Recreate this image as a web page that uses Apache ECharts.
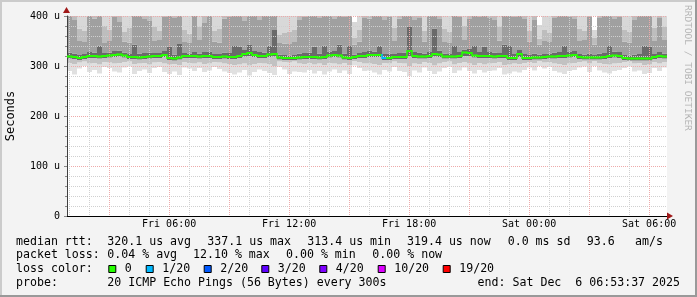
<!DOCTYPE html>
<html><head><meta charset="utf-8">
<script src="https://cdn.jsdelivr.net/npm/echarts@6/dist/echarts.min.js"></script>
<style>html,body{margin:0;padding:0;background:#f3f3f3}#c{width:697px;height:297px}</style>
</head><body><div id="c"></div>
<script>
// time axis: hours after Fri 00:00
const startHour = 0.8936;   // Fri 00:53:37
const endHour = 30.8936;    // Sat 06:53:37
const stepHours = 0.25;
const hourTicks = [1,2,3,4,5,6,7,8,9,10,11,12,13,14,15,16,17,18,19,20,21,22,23,24,25,26,27,28,29,30];
const majorTicks = [3,6,9,12,15,18,21,24,27,30];
const labelTicks = [6,12,18,24,30];
const labelNames = ['Fri 06:00','Fri 12:00','Fri 18:00','Sat 00:00','Sat 06:00'];
const yTicks = [0,100,200,300,400];
const yTickLabels = ['0','100 u','200 u','300 u','400 u'];

// RTT values in microseconds per 15-minute column
const med = [319,318,316,318,320,320,319,320,321,322,323,321,318,318,317,318,319,320,320,322,
316,315,317,320,320,320,319,320,320,318,318,319,318,318,320,324,326,322,320,320,
323,324,317,316,316,316,317,318,318,318,317,318,321,322,321,317,316,318,320,320,
322,322,322,316,316,318,318,318,330,320,319,319,320,324,323,319,319,319,320,327,
326,321,320,320,320,319,320,320,316,316,324,316,316,317,317,318,319,319,320,320,
321,322,318,317,317,317,317,318,320,321,320,316,315,315,315,315,315,318,320,319];
const coreLow = [315,314,312,314,316,316,315,316,317,318,319,317,314,314,313,314,315,316,316,318,
312,311,313,316,316,316,315,316,316,314,314,315,314,314,316,319,320,318,316,316,
318,319,313,312,312,312,313,314,314,314,313,314,317,318,317,313,312,314,316,316,
318,318,318,312,312,314,314,314,320,316,315,315,316,319,318,315,315,315,316,320,
320,317,316,316,316,315,316,316,312,312,318,312,312,313,313,314,315,315,316,316,
317,318,314,313,313,313,313,314,316,317,316,312,311,311,311,311,311,314,316,315];
const midLow = [306,304,307,309,305,306,303,308,307,305,306,308,309,304,305,306,303,307,308,305,
303,304,302,308,306,305,307,304,305,308,307,305,304,302,303,305,301,304,306,305,
304,300,309,308,307,309,305,304,306,303,305,302,306,305,303,306,302,310,308,305,
305,304,302,306,305,309,306,305,300,305,304,308,306,301,305,308,309,303,306,308,
305,302,306,303,305,306,308,302,303,305,304,306,308,306,310,307,308,305,304,302,
305,306,308,309,305,310,306,304,303,305,306,308,309,305,306,302,303,308,305,308];
const minPing = [290,283,295,300,288,292,285,298,296,289,287,297,299,284,290,293,286,296,298,288,
284,289,282,297,295,290,296,288,291,298,294,289,286,283,287,292,281,288,293,290,
286,282,298,293,284,289,288,287,292,285,290,283,289,293,286,291,284,301,296,290,
291,287,283,292,289,298,290,288,280,291,287,297,290,284,289,296,298,286,291,297,
290,285,292,287,290,291,296,283,285,289,287,292,297,291,300,295,298,290,287,284,
290,292,297,299,288,300,291,287,285,290,292,296,299,289,291,284,286,296,290,297];
const coreHigh = [327,325,322,324,328,327,341,326,327,330,331,327,324,343,325,326,327,326,326,330,
339,323,344,326,325,328,325,328,329,324,324,327,326,340,338,332,342,330,328,327,
341,372,323,322,321,322,325,326,327,339,325,341,329,330,343,325,340,323,326,328,
330,329,341,324,325,324,326,327,378,328,327,325,328,375,331,325,324,340,328,333,
334,340,328,339,328,327,326,343,340,324,332,324,322,325,323,324,325,327,328,341,
329,330,324,323,325,322,325,326,340,329,328,322,321,323,324,341,339,324,328,325];
const midHigh = [400,392,350,348,405,395,420,346,350,398,388,349,347,420,402,394,390,350,352,398,
420,396,420,348,346,404,352,386,400,349,347,395,398,420,420,390,420,405,392,400,
420,420,346,345,344,348,392,398,405,420,396,420,402,394,420,398,420,343,349,396,
395,404,420,392,398,350,395,400,420,392,396,349,402,420,394,348,346,420,398,352,
394,420,398,420,396,392,351,420,420,398,404,394,349,392,343,350,348,396,402,420,
398,394,350,352,398,343,396,402,420,394,398,349,347,392,400,420,420,350,396,352];
const outerHigh = [420,420,375,370,420,420,430,380,372,420,420,368,376,430,420,420,420,378,370,420,
430,420,430,372,365,420,378,420,420,370,374,420,420,430,430,420,430,420,420,420,
430,430,362,366,368,372,420,420,420,430,420,430,420,420,430,420,430,356,372,420,
420,420,430,420,420,376,420,420,430,420,420,370,420,430,420,374,368,430,420,380,
420,430,420,430,420,420,378,430,430,420,420,420,370,420,355,372,366,420,420,430,
420,420,374,370,420,356,420,420,430,420,420,372,368,420,420,430,430,376,420,378];
const maxPing = [440,440,440,440,440,440,440,440,440,440,440,440,440,440,440,440,440,440,440,440,
440,440,440,440,440,440,440,440,440,440,440,440,440,440,440,440,440,440,440,440,
440,440,440,440,440,440,440,440,440,440,440,440,440,440,440,440,440,388,440,440,
440,440,440,440,440,440,440,440,440,440,440,440,440,440,440,440,440,440,440,440,
440,440,440,440,440,440,440,440,440,440,440,440,440,440,382,440,440,440,440,440,
440,440,440,440,440,372,440,440,440,440,440,440,440,440,440,440,440,440,440,440];
const lostPings = [0,0,0,0,0,0,0,0,0,0,0,0,0,0,0,0,0,0,0,0,
0,0,0,0,0,0,0,0,0,0,0,0,0,0,0,0,0,0,0,0,
0,0,0,0,0,0,0,0,0,0,0,0,0,0,0,0,0,0,0,0,
0,0,0,1,0,0,0,0,0,0,0,0,0,0,0,0,0,0,0,0,
0,0,0,0,0,0,0,0,0,0,0,0,0,0,0,0,0,0,0,0,
0,0,0,0,0,0,0,0,0,0,0,0,0,0,0,0,0,0,0,0];

const lossLabels = ['0','1/20','2/20','3/20','4/20','10/20','19/20'];
const lossColors = ['#26ff00','#00b8ff','#0059ff','#5e00ff','#7e00ff','#dd00ff','#ff0000'];

const smokeShades = ['#e0e0e0','#c2c2c2','#6a6a6a','#a0a0a0','#bdbdbd','#d8d8d8'];
const MONO = "'DejaVu Sans Mono', monospace";

const colTimes = med.map((_, i) => startHour + i * stepHours);
const smokeData = med.map((m, i) => [colTimes[i], minPing[i], midLow[i], coreLow[i], coreHigh[i], midHigh[i], outerHigh[i], maxPing[i]]);
const medData = med.map((m, i) => [colTimes[i], m, lostPings[i], i > 0 ? med[i-1] : m]);

const chart = echarts.init(document.getElementById('c'), null, {renderer: 'canvas'});

function lossColor(n) {
  if (n <= 0) return lossColors[0];
  if (n <= 1) return lossColors[1];
  if (n <= 2) return lossColors[2];
  if (n <= 3) return lossColors[3];
  if (n <= 4) return lossColors[4];
  if (n <= 10) return lossColors[5];
  return lossColors[6];
}

const legendFont = {fontFamily: MONO, fontSize: 11.6, fill: '#000'};
function txt(x, y, s, extra) {
  return {type: 'text', x: x, y: y, z: 50, style: Object.assign({text: s, textVerticalAlign: 'middle'}, legendFont, extra || {})};
}
const rows = [241.5, 255.2, 269, 282.7];
const graphics = [
  {type:'rect', shape:{x:67,y:16,width:600,height:200}, style:{fill:'#ffffff'}, z:-5},
  {type:'rect', shape:{x:0,y:0,width:697,height:2}, style:{fill:'#cbcbcb'}, z:-1},
  {type:'rect', shape:{x:0,y:0,width:2,height:297}, style:{fill:'#cbcbcb'}, z:-1},
  {type:'rect', shape:{x:0,y:295,width:697,height:2}, style:{fill:'#999999'}, z:-1},
  {type:'rect', shape:{x:695,y:0,width:2,height:297}, style:{fill:'#999999'}, z:-1},
  // axis arrows
  {type:'polygon', shape:{points:[[63,13],[70,13],[66.5,7]]}, style:{fill:'#a01818'}, z:60},
  {type:'polygon', shape:{points:[[667,212.5],[667,219.5],[673,216]]}, style:{fill:'#a01818'}, z:60},
  {type:'text', x:692, y:5, rotation:-Math.PI/2, z:50, style:{text:'RRDTOOL / TOBI OETIKER', fontFamily:MONO, fontSize:9.5, fill:'#b4b4b4'}},
  txt(16, rows[0], 'median rtt:'),
  txt(107.3, rows[0], '320.1 us avg'),
  txt(207.3, rows[0], '337.1 us max'),
  txt(307.3, rows[0], '313.4 us min'),
  txt(407, rows[0], '319.4 us now'),
  txt(507.7, rows[0], '0.0 ms sd'),
  txt(586.7, rows[0], '93.6'),
  txt(635, rows[0], 'am/s'),
  txt(16, rows[1], 'packet loss:'),
  txt(107.3, rows[1], '0.04 % avg'),
  txt(193, rows[1], '12.10 % max'),
  txt(286, rows[1], '0.00 % min'),
  txt(372.3, rows[1], '0.00 % now'),
  txt(16, rows[2], 'loss color:'),
  txt(16, rows[3], 'probe:'),
  txt(107.3, rows[3], '20 ICMP Echo Pings (56 Bytes) every 300s'),
  txt(680, rows[3], 'end: Sat Dec  6 06:53:37 2025', {textAlign:'right'})
];
const boxX = [108.3, 145.7, 203.7, 261.3, 319.3, 377.7, 442.7];
lossLabels.forEach((l, i) => {
  graphics.push({type:'rect', shape:{x:boxX[i]+0.5, y:265.5, width:7, height:7}, style:{fill:lossColors[i], stroke:'#000', lineWidth:1}, z:50});
  graphics.push(txt(boxX[i] + 16.5, rows[2], l));
});

const option = {
  animation: false,
  backgroundColor: '#f3f3f3',
  grid: {left: 67, top: 16, right: 30, bottom: 81, containLabel: false, outerBoundsMode: 'none', show: true, backgroundColor: '#ffffff', borderWidth: 0},
  xAxis: [
    {type:'value', min:startHour, max:endHour, position:'bottom', z:5,
     axisLine:{show:true, lineStyle:{color:'#000', width:1}},
     axisTick:{show:false, customValues: hourTicks},
     axisLabel:{show:false},
     splitLine:{show:true, lineStyle:{color:'#d0d0d0', width:1, type:[1,1]}}},
    {type:'value', min:startHour, max:endHour, position:'bottom', z:6,
     axisLine:{show:false},
     axisTick:{show:false, customValues: majorTicks},
     axisLabel:{show:true, customValues: labelTicks, margin: 3, fontFamily: MONO, fontSize: 10, color: '#000',
       formatter: v => { const k = labelTicks.indexOf(Math.round(v)); return k >= 0 ? labelNames[k] : ''; }},
     splitLine:{show:true, lineStyle:{color:'#eeaaaa', width:1, type:[1,1]}}}
  ],
  yAxis: {type:'value', min:0, max:400, interval:100, z:5,
    name:'Seconds', nameLocation:'middle', nameGap:50, nameRotate:90,
    nameTextStyle:{fontFamily: MONO, fontSize: 12, color:'#000'},
    axisLine:{show:true, lineStyle:{color:'#404040'}},
    axisTick:{show:true, length:3, lineStyle:{color:'#888'}},
    minorTick:{show:true, splitNumber:5, length:2, lineStyle:{color:'#888'}},
    axisLabel:{margin:7, fontFamily: MONO, fontSize: 10, color:'#000',
      formatter: v => { const k = yTicks.indexOf(v); return k >= 0 ? yTickLabels[k] : ''; }},
    splitLine:{show:true, lineStyle:{color:'#eeaaaa', width:1, type:[1,1]}},
    minorSplitLine:{show:true, lineStyle:{color:'#d0d0d0', width:1, type:[1,1]}}
  },
  graphic: graphics,
  series: [
    {type:'custom', name:'smoke', z:1, clip:true, data: smokeData,
     renderItem: (params, api) => {
       const t = api.value(0);
       const x0 = api.coord([t, 0])[0];
       const x1 = api.coord([t + stepHours, 0])[0];
       const children = [];
       for (let j = 0; j < 6; j++) {
         const yb = api.coord([t, api.value(j + 1)])[1];
         const yt = api.coord([t, api.value(j + 2)])[1];
         if (yb - yt <= 0) continue;
         children.push({type:'rect', shape:{x:x0, y:yt, width:x1 - x0, height:yb - yt}, style:{fill: smokeShades[j]}});
       }
       return {type:'group', children};
     }},
    {type:'custom', name:'median', z:10, clip:true, data: medData,
     renderItem: (params, api) => {
       const t = api.value(0);
       const p0 = api.coord([t, api.value(1)]);
       const p1 = api.coord([t + stepHours, api.value(1)]);
       const pp = api.coord([t, api.value(3)]);
       const c = lossColor(api.value(2));
       const top = Math.min(p0[1], pp[1]), bot = Math.max(p0[1], pp[1]);
       return {type:'group', children:[
         {type:'rect', shape:{x:p0[0], y:p0[1] - 1, width:p1[0] - p0[0], height:2}, style:{fill:c}},
         {type:'rect', shape:{x:p0[0] - 0.75, y:top - 1, width:1.5, height:bot - top + 2}, style:{fill:c}}
       ]};
     }}
  ]
};
chart.setOption(option);
</script></body></html>
